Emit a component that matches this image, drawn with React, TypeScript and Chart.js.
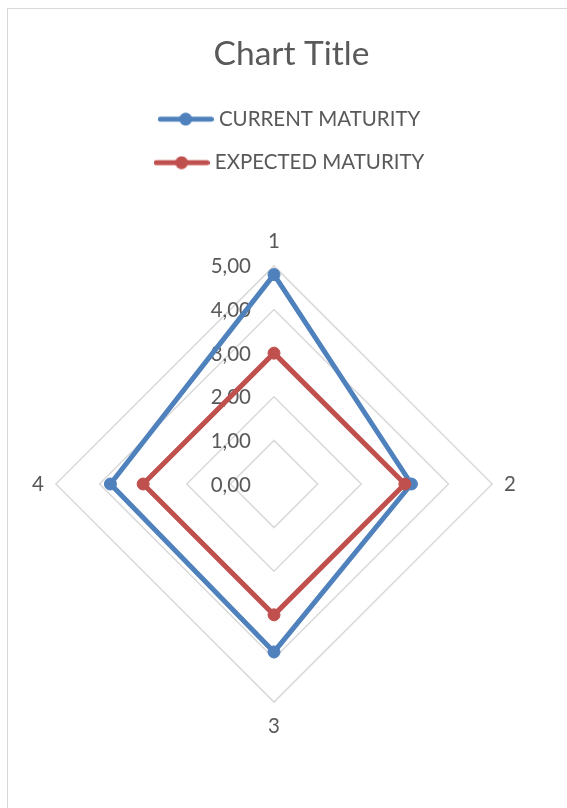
import React, { useEffect, useRef } from 'react';
import { Chart, registerables } from 'chart.js';

Chart.register(...registerables);

const AXIS_LABELS = ['1', '2', '3', '4'];
const CURRENT_MATURITY = [4.8, 3.15, 3.85, 3.75];
const EXPECTED_MATURITY = [3, 3, 3, 3];
const TICK_LABELS = ['0,00', '1,00', '2,00', '3,00', '4,00', '5,00'];
const SERIES_NAMES = ['CURRENT MATURITY', 'EXPECTED MATURITY'];
const SERIES_COLORS = ['#4f81bd', '#c0504d'];
const CHART_TITLE = 'Chart Title';

const FONT = 'Lato';
const TEXT = '#595959';

function makeLegendIcon(color: string) {
  const c = document.createElement('canvas');
  c.width = 56;
  c.height = 14;
  const g = c.getContext('2d')!;
  g.strokeStyle = color;
  g.lineWidth = 5;
  g.lineCap = 'round';
  g.beginPath();
  g.moveTo(2.5, 7);
  g.lineTo(53.5, 7);
  g.stroke();
  g.fillStyle = color;
  g.beginPath();
  g.arc(28, 7, 6.5, 0, Math.PI * 2);
  g.fill();
  return c;
}

const tickLabelPlugin = {
  id: 'tickLabelsLeft',
  beforeDatasetsDraw(chart: any) {
    const s = chart.scales.r;
    const ctx = chart.ctx;
    ctx.save();
    ctx.font = `20.5px ${FONT}`;
    ctx.fillStyle = TEXT;
    ctx.textAlign = 'right';
    ctx.textBaseline = 'middle';
    s.ticks.forEach((t: any, i: number) => {
      const d = s.getDistanceFromCenterForValue(t.value);
      ctx.fillText(TICK_LABELS[i] ?? '', s.xCenter - 23, s.yCenter - d + 1);
    });
    ctx.restore();
  },
};

export default function App() {
  const ref = useRef<HTMLCanvasElement | null>(null);

  useEffect(() => {
    if (!ref.current) return;
    const icons = SERIES_COLORS.map(makeLegendIcon);
    const series = [CURRENT_MATURITY, EXPECTED_MATURITY];
    const chart = new Chart(ref.current, {
      type: 'radar',
      data: {
        labels: AXIS_LABELS,
        datasets: series.map((values, i) => ({
          label: SERIES_NAMES[i],
          data: values,
          borderColor: SERIES_COLORS[i],
          backgroundColor: SERIES_COLORS[i],
          pointBackgroundColor: SERIES_COLORS[i],
          pointBorderColor: SERIES_COLORS[i],
          pointRadius: 6,
          pointBorderWidth: 1,
          borderWidth: 5,
          borderJoinStyle: 'round',
          fill: false,
          order: i === 0 ? 1 : 0,
        })),
      },
      options: {
        responsive: true,
        maintainAspectRatio: false,
        animation: false,
        events: [],
        layout: { padding: { top: 10.7, left: 24, right: 16, bottom: 22.3 } },
        plugins: {
          title: {
            display: true,
            text: CHART_TITLE,
            color: TEXT,
            font: { family: FONT, size: 33.5, weight: 'normal' },
            padding: { top: 14, bottom: 12 },
          },
          subtitle: {
            display: true,
            text: '',
            position: 'right',
            fullSize: false,
            font: { family: FONT, size: 10 },
            padding: { top: 11.5, bottom: 11.5 },
          },
          legend: {
            display: true,
            position: 'top',
            labels: {
              usePointStyle: true,
              pointStyleWidth: 46,
              padding: 23,
              color: TEXT,
              font: { family: FONT, size: 20.5 },
              generateLabels: (c: any) =>
                c.data.datasets.map((ds: any, i: number) => ({
                  text: ds.label,
                  fillStyle: ds.borderColor,
                  strokeStyle: ds.borderColor,
                  lineWidth: 0,
                  pointStyle: icons[i],
                  fontColor: TEXT,
                  hidden: false,
                  datasetIndex: i,
                })),
            },
          },
          tooltip: { enabled: false },
        },
        scales: {
          r: {
            min: 0,
            max: 5,
            ticks: { display: false, stepSize: 1 },
            grid: { color: '#d9d9d9', lineWidth: 1.5 },
            angleLines: { display: false },
            pointLabels: {
              color: TEXT,
              font: { family: FONT, size: 20.5 },
              padding: 12,
            },
          },
        },
      },
      plugins: [tickLabelPlugin],
    } as any);
    return () => chart.destroy();
  }, []);

  return (
    <div
      style={{
        position: 'fixed',
        left: 7,
        top: 8,
        width: 560,
        height: 800,
        boxSizing: 'border-box',
        borderLeft: '1px solid #d9d9d9',
        borderTop: '1px solid #d9d9d9',
        background: '#fff',
      }}
    >
      <div style={{ position: 'relative', width: 559, height: 799 }}>
        <canvas ref={ref} />
      </div>
    </div>
  );
}
